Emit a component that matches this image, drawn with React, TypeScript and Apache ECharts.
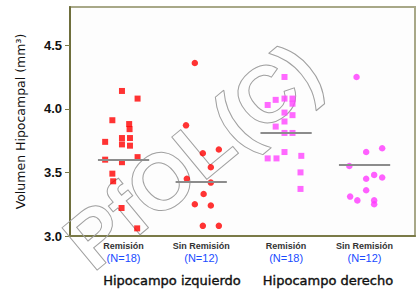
import React, { useEffect, useRef } from "react";
import * as echarts from "echarts";

// Category labels (below the x axis)
const categories = ["Remisión", "Sin Remisión", "Remisión", "Sin Remisión"];
const counts = ["(N=18)", "(N=12)", "(N=18)", "(N=12)"];
const regions = ["Hipocampo izquierdo", "Hipocampo derecho"];
const yTicks = [3.0, 3.5, 4.0, 4.5];

// Group positions on the x scale and the horizontal reference (median) lines
const groupCenters = [1, 1.97, 3.03, 4.01];
const medians = [3.6, 3.43, 3.81, 3.56];

// Each point: [horizontal jitter relative to group centre, volume mm³]
const izqRemision: [number, number][] = [
  [-0.02, 4.14], [0.175, 4.08], [-0.14, 3.91], [0.07, 3.88], [0.075, 3.84],
  [-0.23, 3.74], [-0.02, 3.77], [0.08, 3.77], [-0.02, 3.72], [0.08, 3.71],
  [-0.23, 3.6], [-0.02, 3.58], [0.175, 3.62], [-0.14, 3.49], [-0.13, 3.43],
  [-0.025, 3.22], [0.17, 3.06],
];
const izqSinRemision: [number, number][] = [
  [-0.08, 4.36], [-0.19, 3.87], [0.02, 3.65], [0.22, 3.68], [0.12, 3.54],
  [-0.18, 3.45], [0.12, 3.42], [0.03, 3.33], [-0.08, 3.25], [0.12, 3.24],
  [0.02, 3.08], [0.22, 3.08],
];
const derRemision: [number, number][] = [
  [-0.02, 4.25], [-0.13, 4.07], [-0.02, 4.08], [0.08, 4.08], [0.08, 4.04],
  [-0.23, 4.03], [-0.02, 3.97], [0.08, 3.95], [-0.02, 3.9], [-0.13, 3.86],
  [-0.02, 3.81], [0.08, 3.81], [-0.02, 3.66], [-0.23, 3.61], [-0.12, 3.61],
  [0.19, 3.63], [0.18, 3.5], [0.18, 3.37],
];
const derSinRemision: [number, number][] = [
  [-0.1, 4.25], [0.02, 3.66], [0.22, 3.69], [-0.19, 3.55], [0.02, 3.45],
  [0.12, 3.48], [0.22, 3.46], [0.02, 3.36], [-0.18, 3.31], [-0.09, 3.28],
  [0.12, 3.28], [0.12, 3.25],
];

const groups = [izqRemision, izqSinRemision, derRemision, derSinRemision];
const groupSymbols = ["rect", "circle", "rect", "circle"];
const groupColors = ["#ff0000", "#ff0000", "#ff44ff", "#ff38ff"];
const groupSizes = [6, 6.5, 6, 6.5];

export default function App() {
  const ref = useRef<HTMLDivElement>(null);

  useEffect(() => {
    if (!ref.current) return;
    const chart = echarts.init(ref.current, null, { renderer: "svg" });

    const series: any[] = groups.map((pts, gi) => ({
      type: "scatter",
      z: 3,
      symbol: groupSymbols[gi],
      symbolSize: groupSizes[gi],
      itemStyle: { color: groupColors[gi] },
      data: pts.map(([dx, v]) => [groupCenters[gi] + dx, v]),
      markLine: {
        silent: true,
        symbol: ["none", "none"],
        label: { show: false },
        lineStyle: { color: "#8c8c8c", width: 2, type: "solid" },
        data: [
          [
            { coord: [groupCenters[gi] - 0.32, medians[gi]] },
            { coord: [groupCenters[gi] + 0.32, medians[gi]] },
          ],
        ],
      },
    }));

    const nearestGroup = (v: number) => {
      let best = 0;
      groupCenters.forEach((c, i) => {
        if (Math.abs(c - v) < Math.abs(groupCenters[best] - v)) best = i;
      });
      return best;
    };

    chart.setOption({
      animation: false,
      backgroundColor: "#ffffff",
      grid: {
        left: 70,
        top: 7,
        right: 1,
        bottom: 53,
        show: true,
        backgroundColor: "#fdfdfd",
        borderColor: "#a8a888",
        borderWidth: 2,
      },
      xAxis: {
        type: "value",
        min: 0.331,
        max: 4.64,
        splitLine: { show: false },
        axisLine: { show: true, lineStyle: { color: "#7a7a48", width: 2 } },
        axisTick: { show: false },
        axisLabel: {
          customValues: groupCenters,
          margin: 4,
          formatter: (v: number) => {
            const g = nearestGroup(v);
            return `{a|${categories[g]}}\n{b|${counts[g]}}`;
          },
          rich: {
            a: {
              fontFamily: "Liberation Sans",
              fontWeight: "bold",
              fontSize: 9,
              color: "#333333",
              lineHeight: 11,
            },
            b: {
              fontFamily: "Liberation Sans",
              fontSize: 11,
              color: "#1a4cff",
              lineHeight: 14,
            },
          },
        },
      },
      yAxis: {
        type: "value",
        min: 3.0,
        max: 4.8,
        interval: 0.5,
        splitLine: { show: false },
        axisLine: { show: true, lineStyle: { color: "#6e6e3c", width: 2 } },
        axisTick: {
          show: true,
          length: 5,
          customValues: yTicks,
          lineStyle: { color: "#7a7a48", width: 1 },
        },
        axisLabel: {
          customValues: yTicks,
          margin: 8,
          fontFamily: "Liberation Sans",
          fontWeight: "bold",
          fontSize: 13,
          color: "#111111",
          formatter: (v: number) => v.toFixed(1),
        },
        name: "Volumen Hipocampal (mm³)",
        nameLocation: "middle",
        nameGap: 43,
        nameTextStyle: {
          fontFamily: "DejaVu Sans",
          fontSize: 12.5,
          color: "#111111",
        },
      },
      graphic: [
        {
          type: "text",
          x: 192,
          y: 156,
          rotation: 0.69,
          z: 1,
          silent: true,
          style: {
            text: "PfOL(C)",
            font: 'bold 80px "Liberation Sans"',
            fill: "none",
            stroke: "#a0a0a0",
            lineWidth: 1,
            align: "center",
            verticalAlign: "middle",
          },
        },
        ...regions.map((r, i) => ({
          type: "text",
          x: i === 0 ? 172 : 328,
          y: 280,
          z: 5,
          style: {
            text: r,
            font: '13px "DejaVu Sans"',
            fill: "#111111",
            stroke: "#111111",
            lineWidth: 0.4,
            align: "center",
            verticalAlign: "middle",
          },
        })),
      ],
      series,
    });

    return () => chart.dispose();
  }, []);

  return (
    <div
      ref={ref}
      style={{ position: "absolute", left: 0, top: 0, width: 416, height: 289 }}
    />
  );
}
